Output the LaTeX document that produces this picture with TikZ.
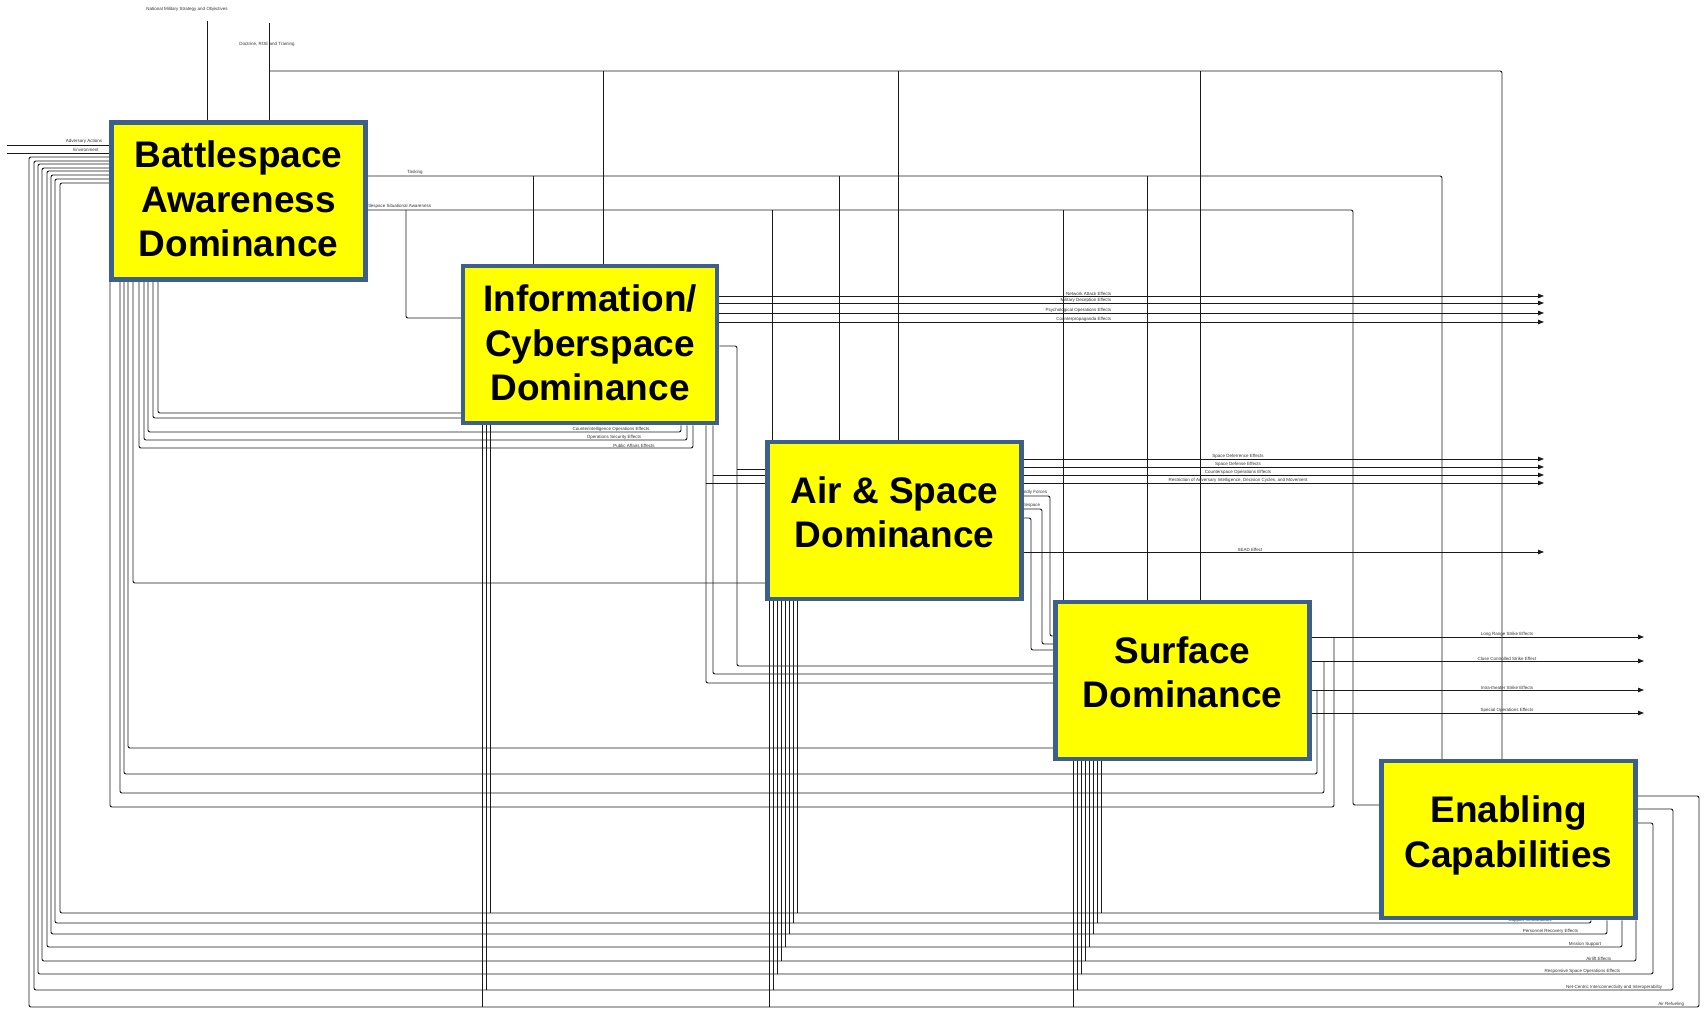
\documentclass[tikz,border=0pt]{standalone}
\usepackage{fontspec}
\setmainfont{Liberation Sans}
\usetikzlibrary{arrows.meta,calc}
\definecolor{Lemon}{HTML}{FFFF00}
\definecolor{Slate}{HTML}{3D5F8B}
\definecolor{Wire}{HTML}{1A1A1A}
\pgfdeclarelayer{wires}
\pgfsetlayers{wires,main}
\tikzset{
  activity/.style={
    draw=Slate, line width=4.5pt, fill=Lemon,
    minimum width=254pt, minimum height=157pt, inner sep=0pt
  },
  title/.style={font=\fontsize{37}{44.5}\selectfont\bfseries, align=center, inner sep=0pt},
  wire/.style={draw=Wire, line width=0.9pt, rounded corners=2pt},
  outwire/.style={wire, -{Triangle[length=6pt,width=4.5pt]}},
  tag/.style={font=\fontsize{4.5}{5}\selectfont, inner sep=0.6pt, text=black!80}
}

\begin{document}
\begin{tikzpicture}[x=1pt,y=-1pt]
  \useasboundingbox (0,0) rectangle (1705,1009);
  % activities
  \node[activity] (aware) at (238.5,201) {};
  \node[activity] (cyber) at (590,344.5) {};
  \node[activity] (airsp) at (894.5,520.5) {};
  \node[activity] (surf) at (1182.5,680.5) {};
  \node[activity] (enab) at (1508.5,839.5) {};
  \node[title,yshift=2pt] at (aware.center) {Battlespace\\Awareness\\Dominance};
  \node[title,yshift=1.5pt] at (cyber.center) {Information/\\Cyberspace\\Dominance};
  \node[title,yshift=8pt] at (airsp.center) {Air \& Space\\Dominance};
  \node[title,yshift=8pt] at (surf.center) {Surface\\Dominance};
  \node[title,yshift=4pt] at (enab.center) {Enabling\\Capabilities};

  \begin{pgfonlayer}{wires}
    % controls from the top
    \coordinate (nmso) at (207,21);
    \coordinate (drt) at (269,23);
    \node[tag] at (187,9) {National Military Strategy and Objectives};
    \node[tag] at (267,44) {Doctrine, ROE and Training};
    \draw[wire] (nmso) -- (nmso |- aware.north);
    \draw[wire] (drt) -- (drt |- aware.north);
    \draw[wire] (drt |- 0,71) -- (1502,71) -- (1502,71 |- enab.north);
    \foreach \x/\n in {603/cyber,898/airsp,1200/surf}
      \draw[wire] (\x,71) -- (\x,71 |- \n.north);

    % tasking
    \node[tag,anchor=south] at (415,175) {Tasking};
    \draw[wire] (aware.east |- 0,176) -- (1442,176) -- (1442,176 |- enab.north);
    \foreach \x/\n in {533/cyber,839/airsp,1147/surf}
      \draw[wire] (\x,176) -- (\x,176 |- \n.north);

    % situational awareness
    \node[tag,anchor=south west] at (361,209.5) {Battlespace Situational Awareness};
    \draw[wire] (aware.east |- 0,210) -- (1353,210) -- (1353,805) -- (enab.west |- 0,805);
    \draw[wire] (406,210) -- (406,318) -- (cyber.west |- 0,318);
    \foreach \x/\n in {772/airsp,1063/surf}
      \draw[wire] (\x,210) -- (\x,210 |- \n.north);

    % inputs from the left
    \coordinate (edge) at (7,0);
    \draw[wire] (edge |- 0,145) -- (aware.west |- 0,145);
    \draw[wire] (edge |- 0,153) -- (aware.west |- 0,153);
    \node[tag,anchor=south east] at (103,144.5) {Adversary Actions};
    \node[tag,anchor=south] at (86,152.5) {Environment};

    % effects leaving to the right
    \coordinate (rim) at (1544,0);
    \coordinate (farrim) at (1644,0);
    \foreach \y/\t in {296/Network Attack Effects, 303/Military Deception Effects,
        313/Psychological Operations Effects, 322/Counterpropaganda Effects}{
      \draw[outwire] (cyber.east |- 0,\y) -- (rim |- 0,\y);
      \node[tag,anchor=south east] at (1112,\y) {\t};
    }
    \foreach \y/\t in {459/Space Deterrence Effects, 467/Space Defense Effects,
        475/Counterspace Operations Effects,
        483/{Restriction of Adversary Intelligence, Decision Cycles, and Movement}}{
      \draw[outwire] (airsp.east |- 0,\y) -- (rim |- 0,\y);
      \node[tag,anchor=south] at (1238,\y) {\t};
    }
    \draw[outwire] (airsp.east |- 0,552) -- (rim |- 0,552);
    \node[tag,anchor=south] at (1250,552) {SEAD Effect};
    \foreach \y/\t in {637/Long Range Strike Effects, 661/Close Controlled Strike Effect,
        690/Intra-theater Strike Effects, 713/Special Operations Effects}{
      \draw[outwire] (surf.east |- 0,\y) -- (farrim |- 0,\y);
      \node[tag,anchor=south] at (1507,\y) {\t};
    }

    % strike effects back to awareness
    \foreach \x/\y/\d/\a in {1334/637/807/110, 1324/661/793/120, 1317/690/774/124}
      \draw[wire] (\x,\y) -- (\x,\d) -- (\a,\d) -- (\a,\d |- aware.south);

    % awareness products to the other activities
    \draw[wire] (aware.south -| 158,0) -- (158,413) -- (cyber.west |- 0,413);
    \draw[wire] (aware.south -| 153,0) -- (153,418) -- (cyber.west |- 0,418);
    \draw[wire] (aware.south -| 133,0) -- (133,583) -- (airsp.west |- 0,583);
    \draw[wire] (aware.south -| 128,0) -- (128,748) -- (surf.west |- 0,748);

    % information effects back to awareness
    \foreach \b/\y/\a/\l/\t in {681/432/148/611/Counterintelligence Operations Effects,
        687/440/144/614/Operations Security Effects, 693/448/139/634/Public Affairs Effects}{
      \draw[wire] (cyber.south -| \b,0) -- (\b,\y) -- (\a,\y) -- (\a,\y |- aware.south);
      \node[tag,anchor=south] at (\l,\y) {\t};
    }

    % information to air & space and surface
    \draw[wire] (cyber.east |- 0,346) -- (737,346) -- (737,666) -- (surf.west |- 0,666);
    \draw[wire] (737,469) -- (airsp.west |- 0,469);
    \draw[wire] (cyber.south -| 713,0) -- (713,674) -- (surf.west |- 0,674);
    \draw[wire] (713,475) -- (airsp.west |- 0,475);
    \draw[wire] (cyber.south -| 706,0) -- (706,683) -- (surf.west |- 0,683);
    \draw[wire] (706,483) -- (airsp.west |- 0,483);

    % air & space to surface
    \node[tag,anchor=south east] at (1048,495.5) {Friendly Forces};
    \node[tag,anchor=south east] at (1041,508.5) {Battlespace};
    \draw[wire] (airsp.east |- 0,496) -- (1050,496) -- (1050,636) -- (surf.west |- 0,636);
    \draw[wire] (airsp.east |- 0,509) -- (1042,509) -- (1042,644) -- (surf.west |- 0,644);
    \draw[wire] (airsp.east |- 0,518) -- (1031,518) -- (1031,650) -- (surf.west |- 0,650);

    % enabling capabilities back to every activity
    \draw[wire] (aware.west |- 0,183) -- (60,183) -- (60,913) -- (enab.west |- 0,913);
    \foreach \xl/\ye/\yb/\xr in {55/179/923/1591, 51/175/934/1607, 47/171/947/1622, 42/168/961/1636}
      \draw[wire] (aware.west |- 0,\ye) -- (\xl,\ye) -- (\xl,\yb) -- (\xr,\yb) -- (\xr,\yb |- enab.south);
    \foreach \xl/\ye/\yb/\xr/\yr in {38/164/974/1653/823, 34/161/990/1673/809, 29/157/1007/1699/796}
      \draw[wire] (aware.west |- 0,\ye) -- (\xl,\ye) -- (\xl,\yb) -- (\xr,\yb) -- (\xr,\yr) -- (enab.east |- 0,\yr);
    \foreach \k/\y in {0/913,1/923,2/934,3/947,4/961,5/974,6/990,7/1007}{
      \pgfmathsetmacro\xa{797-4*\k}
      \pgfmathsetmacro\xs{1101-4*\k}
      \draw[wire] (\xa,\y) -- (\xa,\y |- airsp.south);
      \draw[wire] (\xs,\y) -- (\xs,\y |- surf.south);
    }
    \foreach \x/\y in {490/913,486/990,482/1007}
      \draw[wire] (\x,\y) -- (\x,\y |- cyber.south);
    \node[tag,anchor=south east] at (1553,923) {Support Infrastructure};
    \node[tag,anchor=south east] at (1579,934) {Personnel Recovery Effects};
    \node[tag,anchor=south east] at (1602,947) {Mission Support};
    \node[tag,anchor=south east] at (1612,961) {Airlift Effects};
    \node[tag,anchor=south east] at (1621,974) {Responsive Space Operations Effects};
    \node[tag,anchor=south east] at (1663,990) {Net-Centric Interconnectivity and Interoperability};
    \node[tag,anchor=south east] at (1685,1007) {Air Refueling};
  \end{pgfonlayer}
\end{tikzpicture}
\end{document}
